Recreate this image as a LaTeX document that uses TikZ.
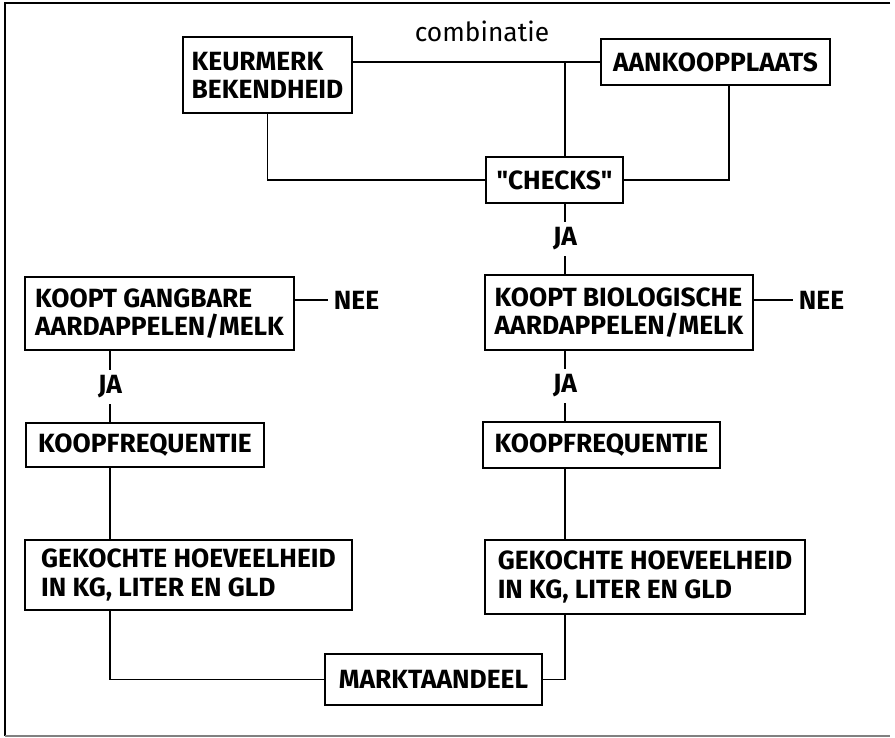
\documentclass[tikz,border=0pt]{standalone}
\usepackage{fontspec}
\setmainfont{Fira Sans}
\newfontfamily\quotefont{Fira Sans}
\tikzset{
  flow/.style={x=0.02cm,y=-0.02cm,font=\fontsize{15}{16}\selectfont\bfseries,line width=0.8pt},
  blok/.style 2 args={draw,line width=1.1pt,align=left,inner sep=0pt,
    minimum width=#1*0.02cm,minimum height=#2*0.02cm},
  lbl/.style={fill=white,inner sep=3pt},
  nee/.style={anchor=west,inner xsep=3pt,inner ysep=0pt}
}

\begin{document}
\begin{tikzpicture}[flow]
    \useasboundingbox (0,0) rectangle (895,737);
    \draw (890,3) -- (5,3) -- (5,736);
    \draw[gray] (5,736) -- (890,736);
    \coordinate (cl) at (110,0);
    \coordinate (cr) at (565,0);
    \coordinate (ar) at (729,0);
    \node[blok={169}{76}] (keur) at (267.5,75) {KEURMERK\\BEKENDHEID};
    \node[blok={229}{46}] (aank) at (715.5,62) {AANKOOPPLAATS};
    \node[blok={137}{46}] (checks) at (554.5,180) {{\quotefont"}CHECKS{\quotefont"}};
    \node[font=\fontsize{15}{16}\selectfont,anchor=base] (comb) at (482,41) {combinatie};
    \node[blok={269}{73}] (koopg) at (159.5,313.5) {KOOPT GANGBARE\\AARDAPPELEN/MELK};
    \node[blok={268}{75}] (koopb) at (619,312.5) {KOOPT BIOLOGISCHE\\AARDAPPELEN/MELK};
    \node[nee] (neeg) at (328,300) {NEE};
    \node[nee] (neeb) at (793,300) {NEE};
    \node[blok={238}{44}] (freqg) at (145,445) {KOOPFREQUENTIE};
    \node[blok={237}{46}] (freqb) at (601.5,445) {KOOPFREQUENTIE};
    \node[blok={327}{70}] (hoevg) at (188.5,575) {GEKOCHTE HOEVEELHEID\\IN KG, LITER EN GLD};
    \node[blok={320}{74}] (hoevb) at (645,577) {GEKOCHTE HOEVEELHEID\\IN KG, LITER EN GLD};
    \node[blok={217}{51}] (markt) at (433.5,679.5) {MARKTAANDEEL};
    \node[lbl] (jab) at (565,239) {JA};
    \node[lbl] (jag) at (110,387) {JA};
    \node[lbl] (jac) at (565,386) {JA};
    \draw (keur.east |- aank.west) -- (aank.west);
    \draw (cr |- aank.west) -- (cr |- checks.north);
    \draw (keur.south) |- (checks.west);
    \draw (checks.east) -| (ar |- aank.south);
    \draw (cr |- checks.south) -- (jab.north);
    \draw (jab.south) -- (cr |- koopb.north);
    \draw (koopg.east |- neeg.west) -- (neeg.west);
    \draw (koopb.east |- neeb.west) -- (neeb.west);
    \draw (cl |- koopg.south) -- (jag.north);
    \draw (jag.south) -- (cl |- freqg.north);
    \draw (cr |- koopb.south) -- (jac.north);
    \draw (jac.south) -- (cr |- freqb.north);
    \draw (cl |- freqg.south) -- (cl |- hoevg.north);
    \draw (cr |- freqb.south) -- (cr |- hoevb.north);
    \draw (cl |- hoevg.south) |- (markt.west);
    \draw (markt.east) -| (cr |- hoevb.south);
\end{tikzpicture}
\end{document}
